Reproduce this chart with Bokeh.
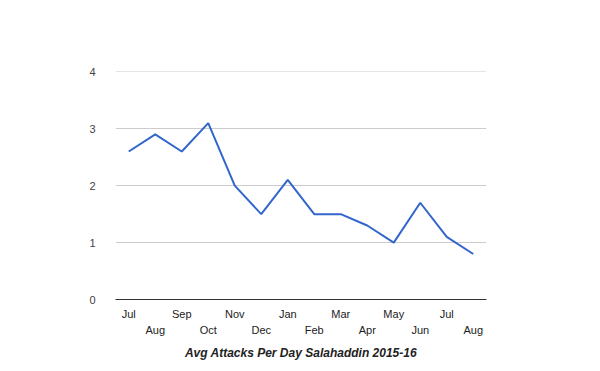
from bokeh.plotting import figure
from bokeh.models import Range1d, FixedTicker, LinearAxis
from bokeh.embed import file_html
from bokeh.resources import INLINE

months = ["Jul", "Aug", "Sep", "Oct", "Nov", "Dec", "Jan", "Feb", "Mar", "Apr", "May", "Jun", "Jul", "Aug"]
attacks = [2.6, 2.9, 2.6, 3.1, 2.0, 1.5, 2.1, 1.5, 1.5, 1.3, 1.0, 1.7, 1.1, 0.8]
y_ticks = [0, 1, 2, 3, 4]
title_text = "Avg Attacks Per Day Salahaddin 2015-16"

idx = list(range(len(months)))

p = figure(width=600, height=371, output_backend="svg", toolbar_location=None,
           x_range=Range1d(-0.5, len(months) - 0.5), y_range=Range1d(0, 4.006),
           min_border_left=115, min_border_right=114, min_border_top=71, min_border_bottom=72,
           x_axis_location=None)
p.outline_line_color = None
p.background_fill_color = "white"
p.border_fill_color = "white"
p.xgrid.visible = False

p.line(idx, attacks, line_color="#3366CC", line_width=2)

# y axis
yax = p.yaxis[0]
yax.ticker = FixedTicker(ticks=y_ticks)
yax.axis_line_color = None
yax.major_tick_line_color = None
yax.minor_tick_line_color = None
yax.major_label_text_font = "Liberation Sans"
yax.major_label_text_font_size = "11px"
yax.major_label_text_color = "#444444"
yax.major_label_standoff = 14

p.ygrid.ticker = FixedTicker(ticks=y_ticks)
p.ygrid.grid_line_color = "#CCCCCC"
p.ygrid.grid_line_width = 1

even = [i for i in idx if i % 2 == 0]
odd = [i for i in idx if i % 2 == 1]

ax1 = LinearAxis(ticker=FixedTicker(ticks=even),
                 major_label_overrides={i: months[i] for i in even})
ax2 = LinearAxis(ticker=FixedTicker(ticks=odd),
                 major_label_overrides={i: months[i] for i in odd})
for ax in (ax1, ax2):
    ax.major_tick_line_color = None
    ax.minor_tick_line_color = None
    ax.major_tick_out = 0
    ax.major_tick_in = 0
    ax.major_label_text_font = "Liberation Sans"
    ax.major_label_text_font_size = "11px"
    ax.major_label_text_color = "#222222"
ax1.axis_line_color = "#333333"
ax1.axis_line_width = 1
ax1.major_label_standoff = 8
ax2.axis_line_color = None
ax2.major_label_standoff = 1
ax2.axis_label = title_text
ax2.axis_label_text_font = "Liberation Sans"
ax2.axis_label_text_font_size = "12px"
ax2.axis_label_text_font_style = "bold italic"
ax2.axis_label_text_color = "#222222"
ax2.axis_label_standoff = 7

p.add_layout(ax1, "below")
p.add_layout(ax2, "below")

open("out.html", "w").write(file_html(p, INLINE))
